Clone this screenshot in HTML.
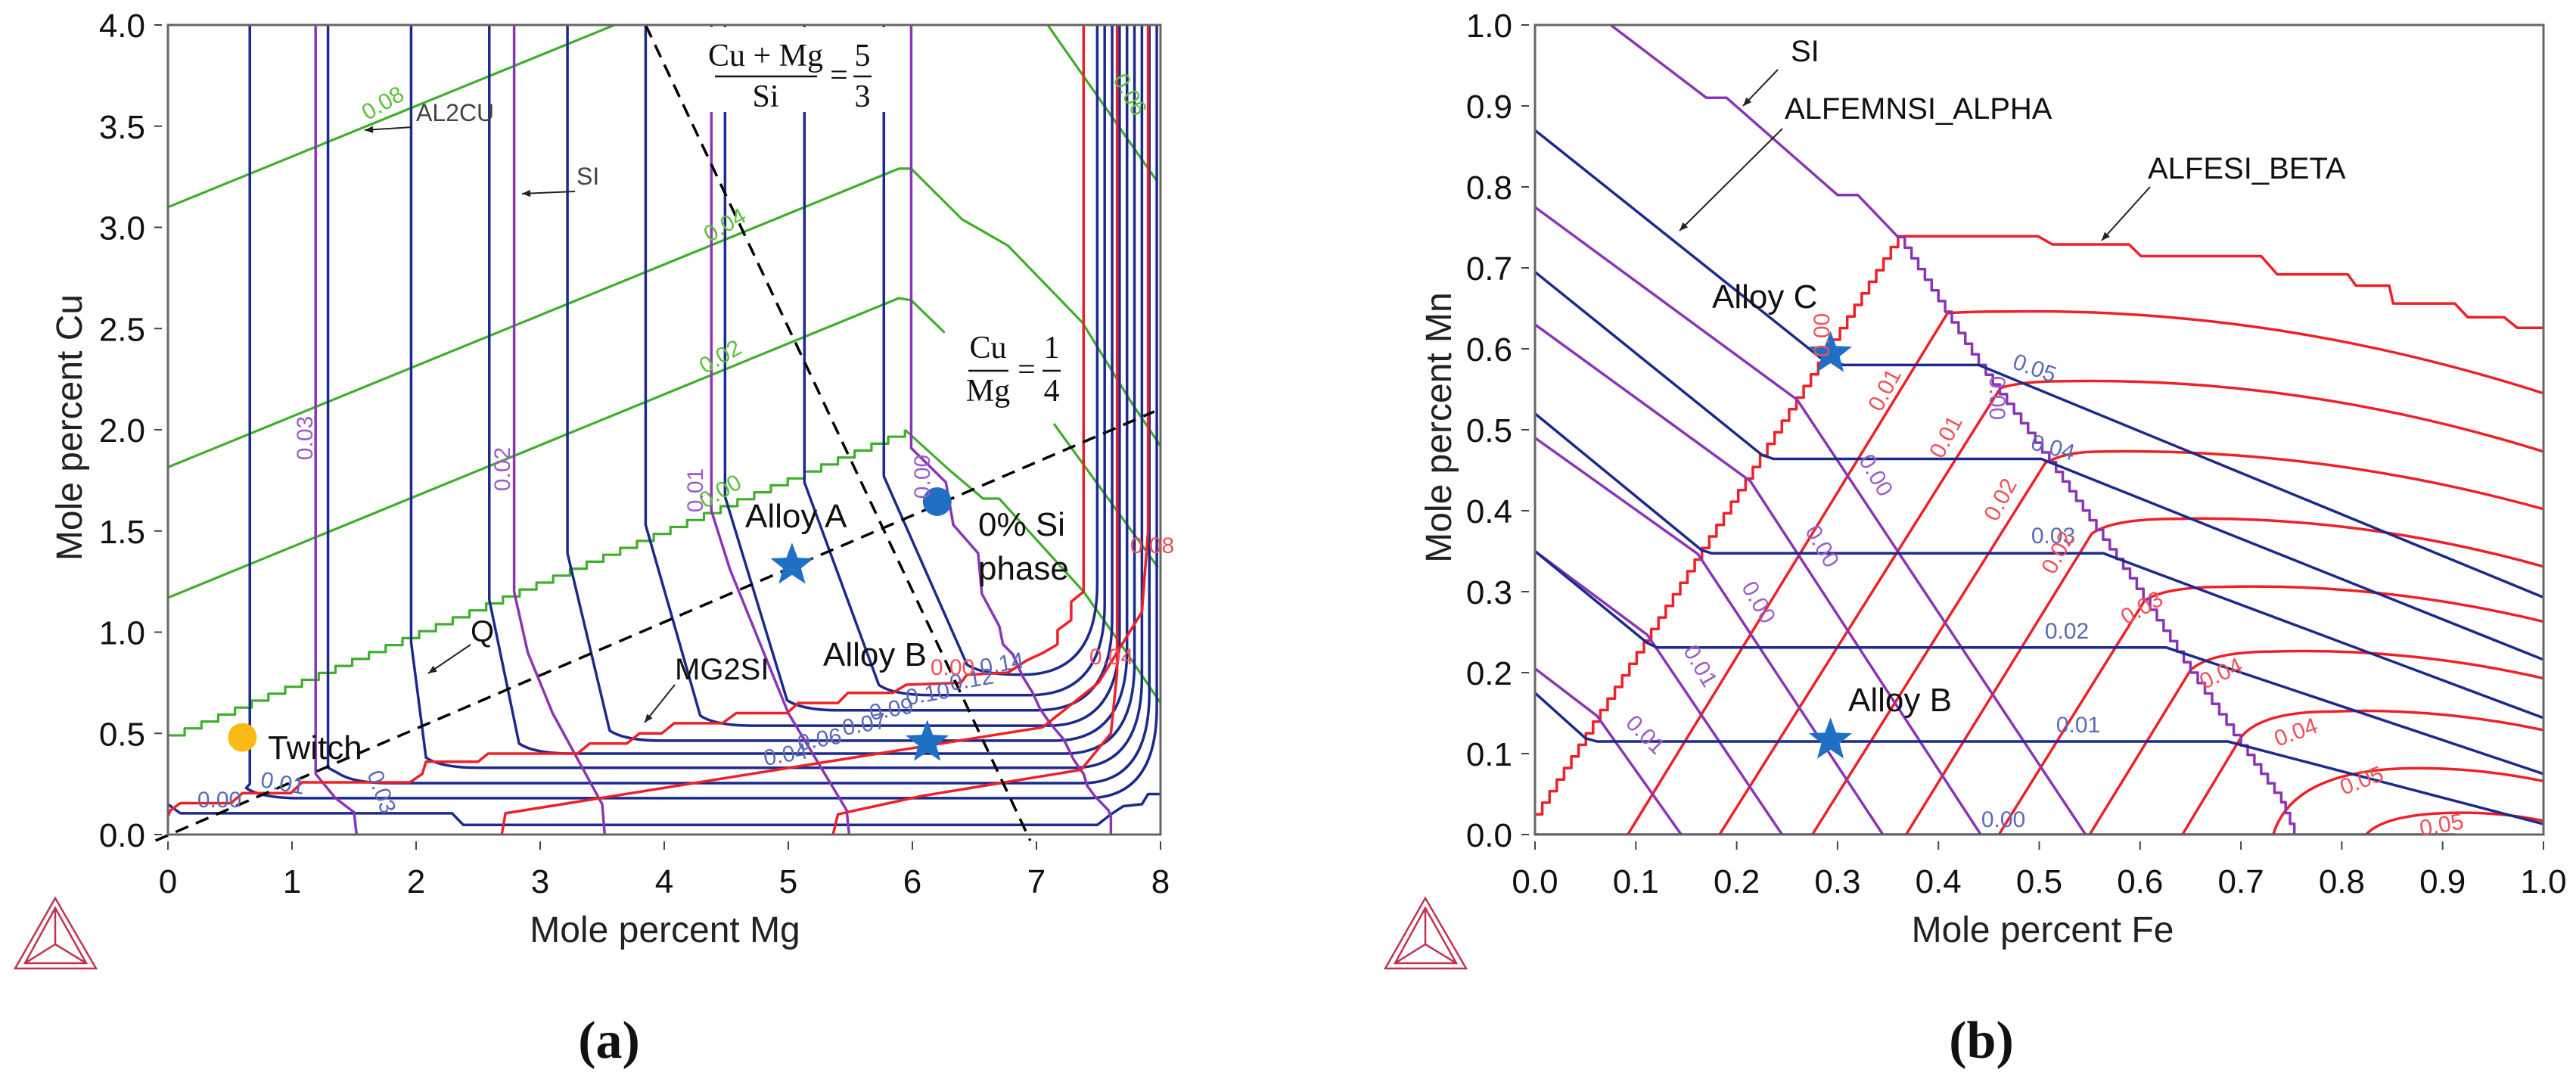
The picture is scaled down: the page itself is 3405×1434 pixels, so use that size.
<!DOCTYPE html>
<html><head><meta charset="utf-8"><style>
html,body{margin:0;padding:0;background:#fff;}
svg{display:block;}
text{font-family:"Liberation Sans",sans-serif;}
.tick{font-size:44px;fill:#111;}
.ax{font-size:48px;fill:#222;}
.ann{font-size:44px;fill:#111;}
.sm{font-size:30px;fill:#222;}
.frac{font-family:"Liberation Serif",serif;font-size:42px;fill:#111;}
</style></head><body>
<svg id="fig" width="3405" height="1434" viewBox="0 0 3405 1434" xmlns="http://www.w3.org/2000/svg">
<g id="panelA"></g>
<g id="panelB"></g>
</svg>
<script>
// ---------- Panel (a) data: Mole percent Mg (x) vs Mole percent Cu (y) ----------
const aXTicks = [0,1,2,3,4,5,6,7,8];
const aYTicks = [0.0,0.5,1.0,1.5,2.0,2.5,3.0,3.5,4.0];
const aGreen1 = [[0,3.1],[3.6,4.0]];
const aGreen2 = [[0,1.815],[5.89,3.29],[5.99,3.29],[6.40,3.04],[6.77,2.91],[7.37,2.53],[7.77,2.13],[8,1.92]];
const aGreen3 = [[0,1.17],[5.89,2.65],[5.99,2.64],[6.26,2.48]];
const aGreen3b = [[7.14,2.03],[7.98,1.32]];
const aGreen4Stair = [[0,0.49],[5.94,2.0]];
const aGreen4Tail = [[5.94,2.0],[6.3,1.8],[6.57,1.66],[6.7,1.66],[7.38,1.2],[7.67,0.95],[8,0.65]];
const aGreen5 = [[7.09,4.0],[7.97,3.23]];
const aBlueXv = [0.66,1.29,1.96,2.59,3.22,3.85,4.49,5.13,5.77];
const aBlueTurn = [0.25,0.33,0.95,1.16,1.39,1.53,1.67,1.74,1.77];
const aBlueLevel = [0.18,0.254,0.33,0.40,0.464,0.538,0.614,0.689,0.79];
const aBlueJoin = [0.75,1.49,2.2,2.95,3.68,4.41,5.11,5.85,6.56];
const aBlueEnd = [7.41,7.37,7.30,7.23,7.15,7.10,7.01,6.95,6.89];
const aBlueRight = [7.97,7.91,7.85,7.79,7.73,7.67,7.61,7.55,7.49];
const aBlueBottom = [[0,0.15],[0.1,0.105],[2.29,0.105],[2.38,0.048],[7.49,0.048],[7.6,0.1],[7.7,0.14],[7.85,0.15],[7.9,0.2],[8,0.2]];
const aPurple1 = [[1.19,4],[1.19,0.3],[1.35,0.18],[1.5,0.11],[1.52,0]];
const aPurple2 = [[2.79,4],[2.79,1.2],[2.9,0.9],[3.1,0.6],[3.5,0.15],[3.52,0]];
const aPurple3 = [[4.38,4],[4.38,1.6],[4.53,1.31],[5.0,0.6],[5.47,0.12],[5.49,0]];
const aPurple4 = [[5.99,4],[5.99,1.91],[6.27,1.74],[6.33,1.53],[6.53,1.39],[6.56,1.19],[6.70,1.03],[6.73,0.94],[6.81,0.89],[6.89,0.78],[6.97,0.70],[7.03,0.62],[7.11,0.55],[7.22,0.47],[7.30,0.37],[7.38,0.30],[7.41,0.24],[7.47,0.19],[7.58,0.12],[7.6,0.09],[7.6,0]];
const aRedBoundary = [[0,0.09],[0.02,0.12],[0.1,0.155],[0.51,0.155],[0.6,0.205],[0.99,0.205],[1.08,0.258],[1.95,0.258],[2.05,0.30],[2.08,0.36],[2.5,0.36],[2.58,0.40],[3.3,0.40],[3.4,0.45],[3.7,0.45],[3.8,0.5],[3.98,0.50],[4.08,0.55],[4.47,0.55],[4.58,0.60],[4.99,0.60],[5.08,0.65],[5.40,0.65],[5.48,0.70],[5.84,0.70],[5.95,0.74],[6.39,0.75],[6.44,0.79],[6.77,0.80],[6.92,0.86],[7.06,0.90],[7.17,0.94],[7.17,1.01],[7.28,1.06],[7.28,1.15],[7.38,1.2],[7.38,4.0]];
const aRed1 = [[2.69,0],[2.72,0.105],[7.05,0.53],[7.5,0.75],[7.85,1.1],[7.9,1.5],[7.9,4]];
const aRed2 = [[5.36,0],[5.4,0.1],[5.47,0.11],[6.07,0.19],[7.36,0.32],[7.6,0.5],[7.65,0.8],[7.65,4]];
const aDash1 = [[-0.1,-0.03],[7.95,2.09]];
const aDash2 = [[3.85,4.0],[6.95,-0.03]];
const aStarA = [5.03,1.33], aStarB = [6.12,0.455], aDotSi = [6.2,1.645], aDotTwitch = [0.6,0.48];

// ---------- Panel (b) data: Mole percent Fe (x) vs Mole percent Mn (y) ----------
const bTicks = [0.0,0.1,0.2,0.3,0.4,0.5,0.6,0.7,0.8,0.9,1.0];
const bPurpleSI = [[0.075,1.0],[0.17,0.91],[0.19,0.91],[0.30,0.79],[0.32,0.79],[0.36,0.738]];
const bPurpleEdge = [[0.36,0.738],[0.44,0.58],[0.51,0.46],[0.59,0.3165],[0.65,0.2],[0.70,0.11],[0.74,0.04],[0.753,0]];
const bPurpleStart = [0.775,0.63,0.49,0.35,0.205];
const bPurpleBend = [[0.26,0.537],[0.2135,0.4365],[0.1615,0.3465],[0.1115,0.2465],[0.0615,0.1465]];
const bPurpleEnd = [0.546,0.442,0.345,0.245,0.145];
const bBlueStart = [0.87,0.695,0.52,0.35,0.175];
const bBlueBend = [[0.283,0.589],[0.225,0.469],[0.165,0.3515],[0.1115,0.2365],[0.05,0.119]];
const bBlueLevel = [0.58,0.464,0.3475,0.231,0.115];
const bBlueH0 = [0.306,0.2365,0.175,0.121,0.0615];
const bBlueH1 = [0.44,0.502,0.5635,0.626,0.687];
const bBlueRightN = [0.293,0.216,0.144,0.075,0.013];
const bBlueBottom = [[0,0],[0.912,0]];
const bRedBase = [0.092,0.183,0.275,0.368,0.46,0.55,0.642];
const bRedTop = [[0.409,0.644],[0.4615,0.5515],[0.506,0.459],[0.552,0.3715],[0.6045,0.289],[0.65,0.203],[0.70,0.12]];
const bRedPeak = [[0.47,0.646],[0.527,0.56],[0.56,0.473],[0.634,0.39],[0.683,0.306],[0.732,0.226],[0.79,0.152]];
const bRedEndN = [0.545,0.473,0.402,0.331,0.263,0.193,0.129];
const bArcStart = [0.732,0.824];
const bArcPeak = [[0.876,0.082],[0.92,0.027]];
const bArcEndN = [0.066,0.017];
const bRedEdge = [[0,0.025],[0.36,0.74]];
const bRedTopStair = [[0.36,0.739],[0.499,0.739],[0.513,0.729],[0.589,0.729],[0.601,0.7145],[0.72,0.7145],[0.736,0.692],[0.806,0.692],[0.814,0.678],[0.847,0.678],[0.851,0.656],[0.912,0.656],[0.925,0.639],[0.961,0.639],[0.974,0.626],[1.0,0.626]];
const bStarC = [0.293,0.594], bStarB = [0.293,0.1165];

// ---------- helpers ----------
const NS = "http://www.w3.org/2000/svg";
function mk(parent, tag, attrs, name, inter){
  const e = document.createElementNS(NS, tag);
  for (const k in attrs) e.setAttribute(k, attrs[k]);
  
  
  parent.appendChild(e); return e;
}
const LX = m => 222 + 164*m, LY = c => 1103 - 267.5*c;
const RX = f => 2029 + 1333*f, RY = n => 1103 - 1070*n;
function pathOf(pts, X, Y){ return pts.map((p,i)=>(i?'L':'M')+X(p[0]).toFixed(1)+' '+Y(p[1]).toFixed(1)).join(' '); }
function stairPath(pts, X, Y, stepPx){
  let d = 'M'+X(pts[0][0])+' '+Y(pts[0][1]);
  for (let i=1;i<pts.length;i++){
    const x0=X(pts[i-1][0]), y0=Y(pts[i-1][1]), x1=X(pts[i][0]), y1=Y(pts[i][1]);
    const k = Math.max(2, Math.round(Math.hypot(x1-x0,y1-y0)/stepPx));
    let cy=y0;
    for (let j=1;j<=k;j++){
      const nx=x0+(x1-x0)*j/k, ny=y0+(y1-y0)*j/k;
      d += ' L'+nx.toFixed(1)+' '+cy.toFixed(1)+' L'+nx.toFixed(1)+' '+ny.toFixed(1);
      cy=ny;
    }
  }
  return d;
}
const C_BLUE='#1c2a8c', C_RED='#ee2028', C_PUR='#8a35b5', C_GRN='#3fae2a';
function line(g, d, color, name, w){ return mk(g,'path',{d:d,fill:'none',stroke:color,'stroke-width':w||3.5,'stroke-linejoin':'round'},name,false); }
function txt(g, x, y, s, cls, name, extra){
  const a = Object.assign({x:x,y:y,class:cls}, extra||{});
  const t = mk(g,'text',a,name,false); t.textContent = s; return t;
}
function star(g, cx, cy, r, name){
  let pts=[];
  for(let i=0;i<10;i++){const a=-Math.PI/2+i*Math.PI/5; const rr=i%2?r*0.42:r; pts.push((cx+rr*Math.cos(a)).toFixed(1)+','+(cy+rr*Math.sin(a)).toFixed(1));}
  return mk(g,'polygon',{points:pts.join(' '),fill:'#1f6fc4'},name,false);
}
function arrow(g, x1,y1,x2,y2,name){
  line(g,'M'+x1+' '+y1+' L'+x2+' '+y2,'#222',name,2);
  const a=Math.atan2(y2-y1,x2-x1), L=12;
  const p=[[x2,y2],[x2-L*Math.cos(a-0.4),y2-L*Math.sin(a-0.4)],[x2-L*Math.cos(a+0.4),y2-L*Math.sin(a+0.4)]];
  mk(g,'polygon',{points:p.map(q=>q.join(',')).join(' '),fill:'#222'},name+'-head',false);
}
function logo(g, x0, name){
  const gg = mk(g,'g',{stroke:'#c0334f','stroke-width':2.5,fill:'none'},name,false);
  const A=[x0+53,1187],B=[x0,1280],C=[x0+107,1280];
  mk(gg,'polygon',{points:[A,B,C].map(p=>p.join(',')).join(' ')},'logo-outer',false);
  const a=[x0+53,1200],b=[x0+13,1273],c=[x0+94,1273];
  mk(gg,'polygon',{points:[a,b,c].map(p=>p.join(',')).join(' ')},'logo-inner',false);
  const o=[x0+53,1248];
  mk(gg,'path',{d:'M'+a+' L'+o+' M'+b+' L'+o+' M'+c+' L'+o},'logo-spokes',false);
}
function axes(g, X0,X1,Y0,Y1,xt,yt,xfmt,yfmt,X,Y,labX,labY,xname,yname,labXpos,labYpos){
  mk(g,'rect',{x:X0,y:Y1,width:X1-X0,height:Y0-Y1,fill:'none',stroke:'#666','stroke-width':3},'plot-frame',false);
  xt.forEach(v=>{
    mk(g,'line',{x1:X(v),x2:X(v),y1:1112,y2:1123,stroke:'#444','stroke-width':2},'x-tick',false);
    txt(g,X(v),1180,xfmt(v),'tick','x-tick-label',{'text-anchor':'middle'});
  });
  yt.forEach(v=>{
    mk(g,'line',{x1:X0-18,x2:X0-8,y1:Y(v),y2:Y(v),stroke:'#444','stroke-width':2},'y-tick',false);
    txt(g,X0-30,Y(v)+16,yfmt(v),'tick','y-tick-label',{'text-anchor':'end'});
  });
  txt(g,labXpos[0],labXpos[1],labX,'ax',xname,{'text-anchor':'middle'});
  txt(g,0,0,labY,'ax',yname,{'text-anchor':'middle',transform:'translate('+labYpos[0]+','+labYpos[1]+') rotate(-90)'});
}

// ---------- Panel (a) ----------
(function(){
  const g = document.getElementById('panelA');
  const plot = mk(g,'g',{},'plot-area-a',false);
  const cp = mk(g,'clipPath',{id:'clipA'},'clip-a',false);
  mk(cp,'rect',{x:222,y:33,width:1312,height:1070},'clip-rect-a',false);
  const cl = mk(plot,'g',{'clip-path':'url(#clipA)'},'contours-a',false);
  [aGreen1,aGreen2,aGreen3,aGreen3b,aGreen4Tail,aGreen5].forEach(p=>line(cl,pathOf(p,LX,LY),C_GRN,'al2cu-contour',3.2));
  line(cl,stairPath(aGreen4Stair,LX,LY,24),C_GRN,'q-boundary',3.2);
  aBlueXv.forEach((xv,i)=>{
    const ch=aBlueLevel[i], xs=aBlueJoin[i], xe=aBlueEnd[i], xr=aBlueRight[i];
    let d='M'+LX(xv)+' '+LY(4.05)+' L'+LX(xv)+' '+LY(aBlueTurn[i]);
    d+=' L'+LX(xs-0.12)+' '+LY(ch+0.05)+' Q'+LX(xs)+' '+LY(ch)+' '+LX(xs+0.3)+' '+LY(ch);
    d+=' L'+LX(xe)+' '+LY(ch)+' Q'+LX(xr)+' '+LY(ch)+' '+LX(xr)+' '+LY(ch+0.45)+' L'+LX(xr)+' '+LY(4.05);
    line(cl,d,C_BLUE,'mg2si-contour');
  });
  line(cl,pathOf(aBlueBottom,LX,LY),C_BLUE,'mg2si-contour-bottom');
  [aPurple1,aPurple2,aPurple3,aPurple4].forEach(p=>line(cl,pathOf(p,LX,LY),C_PUR,'si-contour'));
  [aRedBoundary,aRed1,aRed2].forEach(p=>line(cl,pathOf(p,LX,LY),C_RED,'mg2si-boundary'));
  mk(plot,'rect',{x:930,y:36,width:258,height:112,fill:'#fff'},'fraction-box',false);
  [aDash1,aDash2].forEach(p=>mk(plot,'path',{d:pathOf(p,LX,LY),fill:'none',stroke:'#000','stroke-width':3.5,'stroke-dasharray':'18 11'},'ratio-line',false));
  axes(g,222,1534,1103,33,aXTicks,aYTicks,v=>String(v),v=>v.toFixed(1),LX,LY,'Mole percent Mg','Mole percent Cu','x-axis-title','y-axis-title',[879,1245],[108,565]);
  mk(plot,'circle',{cx:LX(aDotTwitch[0]),cy:LY(aDotTwitch[1]),r:19,fill:'#fdb913'},'twitch-marker',false);
  mk(plot,'circle',{cx:LX(aDotSi[0]),cy:LY(aDotSi[1]),r:19,fill:'#1f6fc4'},'zero-si-marker',false);
  star(plot,LX(aStarA[0]),LY(aStarA[1]),30,'alloy-a-star');
  star(plot,LX(aStarB[0]),LY(aStarB[1]),30,'alloy-b-star');
  txt(g,354,1003,'Twitch','ann','twitch-label');
  txt(g,985,697,'Alloy A','ann','alloy-a-label');
  txt(g,1088,880,'Alloy B','ann','alloy-b-label');
  txt(g,1293,708,'0% Si','ann','zero-si-label');
  txt(g,1293,766,'phase','ann','phase-label');
  txt(g,892,898,'MG2SI','ann','mg2si-label',{style:'font-size:40px'});
  txt(g,622,848,'Q','ann','q-label',{style:'font-size:40px'});
  txt(g,550,160,'AL2CU','sm','al2cu-label',{style:'font-size:32px;fill:#444'});
  txt(g,762,244,'SI','sm','si-label',{style:'font-size:32px;fill:#444'});
  arrow(g,545,168,482,172,'al2cu-arrow');
  arrow(g,760,253,690,256,'si-arrow');
  arrow(g,622,852,566,890,'q-arrow');
  arrow(g,892,905,852,955,'mg2si-arrow');
  txt(g,1012,87,'Cu + Mg','frac','fraction-5-3-num',{'text-anchor':'middle'});
  mk(g,'line',{x1:945,x2:1080,y1:101,y2:101,stroke:'#111','stroke-width':2.5},'fraction-bar',false);
  txt(g,1012,141,'Si','frac','fraction-5-3-den',{'text-anchor':'middle'});
  txt(g,1109,113,'=','frac','equals',{'text-anchor':'middle'});
  txt(g,1140,87,'5','frac','five',{'text-anchor':'middle'});
  mk(g,'line',{x1:1128,x2:1152,y1:101,y2:101,stroke:'#111','stroke-width':2.5},'fraction-bar',false);
  txt(g,1140,141,'3','frac','three',{'text-anchor':'middle'});
  txt(g,1306,473,'Cu','frac','fraction-1-4-num',{'text-anchor':'middle'});
  mk(g,'line',{x1:1280,x2:1333,y1:490,y2:490,stroke:'#111','stroke-width':2.5},'fraction-bar',false);
  txt(g,1306,530,'Mg','frac','fraction-1-4-den',{'text-anchor':'middle'});
  txt(g,1357,502,'=','frac','equals',{'text-anchor':'middle'});
  txt(g,1390,473,'1','frac','one',{'text-anchor':'middle'});
  mk(g,'line',{x1:1378,x2:1402,y1:490,y2:490,stroke:'#111','stroke-width':2.5},'fraction-bar',false);
  txt(g,1390,530,'4','frac','four',{'text-anchor':'middle'});
  const lab=(x,y,s,col,rot,name)=>txt(g,0,0,s,'sm',name,{style:'fill:'+col,'text-anchor':'middle',transform:'translate('+x+','+y+') rotate('+rot+')'});
  lab(511,145,'0.08','#5cbf3a',-30,'green-label'); lab(963,306,'0.04','#5cbf3a',-30,'green-label');
  lab(957,480,'0.02','#5cbf3a',-30,'green-label'); lab(957,658,'0.00','#5cbf3a',-30,'green-label');
  lab(1485,130,'0.06','#5cbf3a',60,'green-label');
  lab(413,579,'0.03','#9a5cc8',-90,'purple-label'); lab(674,620,'0.02','#9a5cc8',-90,'purple-label');
  lab(929,648,'0.01','#9a5cc8',-90,'purple-label'); lab(1229,630,'0.00','#9a5cc8',-90,'purple-label');
  lab(290,1067,'0.00','#5a6ab8',0,'blue-label'); lab(372,1045,'0.01','#5a6ab8',10,'blue-label');
  lab(495,1050,'0.03','#5a6ab8',70,'blue-label');
  lab(1040,1007,'0.04','#5a6ab8',-10,'blue-label'); lab(1085,987,'0.06','#5a6ab8',-10,'blue-label');
  lab(1144,967,'0.07','#5a6ab8',-10,'blue-label'); lab(1180,947,'0.09','#5a6ab8',-10,'blue-label');
  lab(1228,927,'0.10','#5a6ab8',-10,'blue-label'); lab(1286,908,'0.12','#5a6ab8',-10,'blue-label');
  lab(1326,887,'0.14','#5a6ab8',-10,'blue-label');
  lab(1259,892,'0.00','#f0505a',0,'red-label'); lab(1469,878,'0.04','#f0505a',0,'red-label');
  lab(1523,731,'0.08','#f0505a',0,'red-label');
  logo(g,20,'thermo-calc-logo-a');
  txt(g,805,1398,'(a)','frac','caption-a',{'text-anchor':'middle',style:'font-size:70px;font-weight:bold'});
})();

// ---------- Panel (b) ----------
(function(){
  const g = document.getElementById('panelB');
  const plot = mk(g,'g',{},'plot-area-b',false);
  const cp = mk(g,'clipPath',{id:'clipB'},'clip-b',false);
  mk(cp,'rect',{x:2029,y:33,width:1333,height:1070},'clip-rect-b',false);
  const cl = mk(plot,'g',{'clip-path':'url(#clipB)'},'contours-b',false);
  bRedBase.forEach((f0,i)=>{
    const t=bRedTop[i], p=bRedPeak[i], e=bRedEndN[i];
    let d='M'+RX(f0)+' '+RY(0)+' L'+RX(t[0])+' '+RY(t[1]);
    d+=' Q'+RX(t[0]+0.02)+' '+RY(p[1])+' '+RX(p[0])+' '+RY(p[1]);
    d+=' Q'+RX((p[0]+1)/2)+' '+RY(p[1]+0.005)+' '+RX(1.0)+' '+RY(e);
    line(cl,d,C_RED,'alfesi-beta-contour');
  });
  bArcStart.forEach((f0,i)=>{
    const p=bArcPeak[i];
    let d='M'+RX(f0)+' '+RY(0)+' Q'+RX(f0+0.02)+' '+RY(p[1])+' '+RX(p[0])+' '+RY(p[1]);
    d+=' Q'+RX((p[0]+1)/2)+' '+RY(p[1])+' '+RX(1.0)+' '+RY(bArcEndN[i]);
    line(cl,d,C_RED,'alfesi-beta-arc');
  });
  line(cl,stairPath(bRedEdge,RX,RY,18),C_RED,'alfesi-beta-boundary');
  line(cl,pathOf(bRedTopStair,RX,RY),C_RED,'alfesi-beta-boundary-top');
  bPurpleStart.forEach((n0,i)=>{
    const b=bPurpleBend[i];
    line(cl,pathOf([[0,n0],b,[bPurpleEnd[i],0]],RX,RY),C_PUR,'si-contour');
  });
  line(cl,pathOf(bPurpleSI,RX,RY),C_PUR,'si-boundary');
  line(cl,stairPath(bPurpleEdge,RX,RY,16),C_PUR,'si-boundary-edge');
  bBlueStart.forEach((n0,i)=>{
    const b=bBlueBend[i], lv=bBlueLevel[i];
    line(cl,pathOf([[0,n0],b,[bBlueH0[i],lv],[bBlueH1[i],lv],[1.0,bBlueRightN[i]]],RX,RY),C_BLUE,'alfemnsi-alpha-contour');
  });
  line(cl,pathOf(bBlueBottom,RX,RY),C_BLUE,'alfemnsi-alpha-contour-bottom');
  axes(g,2029,3362,1103,33,bTicks,bTicks,v=>v.toFixed(1),v=>v.toFixed(1),RX,RY,'Mole percent Fe','Mole percent Mn','x-axis-title','y-axis-title',[2700,1245],[1918,565]);
  star(plot,RX(bStarC[0]),RY(bStarC[1]),30,'alloy-c-star');
  star(plot,RX(bStarB[0]),RY(bStarB[1]),30,'alloy-b-star');
  txt(g,2263,407,'Alloy C','ann','alloy-c-label');
  txt(g,2443,940,'Alloy B','ann','alloy-b-label');
  txt(g,2367,81,'SI','ann','si-label',{style:'font-size:40px'});
  txt(g,2359,157,'ALFEMNSI_ALPHA','ann','alfemnsi-alpha-label',{style:'font-size:40px'});
  txt(g,2839,236,'ALFESI_BETA','ann','alfesi-beta-label',{style:'font-size:40px'});
  arrow(g,2350,92,2304,140,'si-arrow');
  arrow(g,2356,170,2220,305,'alfemnsi-arrow');
  arrow(g,2842,247,2778,318,'alfesi-arrow');
  const lab=(x,y,s,col,rot,name)=>txt(g,0,0,s,'sm',name,{style:'fill:'+col,'text-anchor':'middle',transform:'translate('+x+','+y+') rotate('+rot+')'});
  lab(2686,496,'0.05','#5a6ab8',20,'blue-label'); lab(2711,601,'0.04','#5a6ab8',15,'blue-label');
  lab(2714,718,'0.03','#5a6ab8',0,'blue-label'); lab(2732,844,'0.02','#5a6ab8',0,'blue-label');
  lab(2747,968,'0.01','#5a6ab8',0,'blue-label'); lab(2648,1093,'0.00','#5a6ab8',0,'blue-label');
  lab(2500,520,'0.01','#f0505a',-62,'red-label'); lab(2581,582,'0.01','#f0505a',-62,'red-label');
  lab(2653,665,'0.02','#f0505a',-62,'red-label'); lab(2418,443,'0.00','#f0505a',-90,'red-label');
  lab(2729,735,'0.02','#f0505a',-62,'red-label'); lab(2836,812,'0.03','#f0505a',-30,'red-label');
  lab(2940,899,'0.04','#f0505a',-25,'red-label'); lab(3038,977,'0.04','#f0505a',-20,'red-label');
  lab(3125,1041,'0.05','#f0505a',-20,'red-label'); lab(3229,1100,'0.05','#f0505a',-10,'red-label');
  lab(2630,526,'0.00','#9a5cc8',90,'purple-label'); lab(2471,633,'0.00','#9a5cc8',60,'purple-label');
  lab(2400,727,'0.00','#9a5cc8',60,'purple-label'); lab(2316,801,'0.00','#9a5cc8',60,'purple-label');
  lab(2239,885,'0.01','#9a5cc8',60,'purple-label'); lab(2168,978,'0.01','#9a5cc8',45,'purple-label');
  logo(g,1831,'thermo-calc-logo-b');
  txt(g,2619,1398,'(b)','frac','caption-b',{'text-anchor':'middle',style:'font-size:70px;font-weight:bold'});
})();
</script>
</body></html>
